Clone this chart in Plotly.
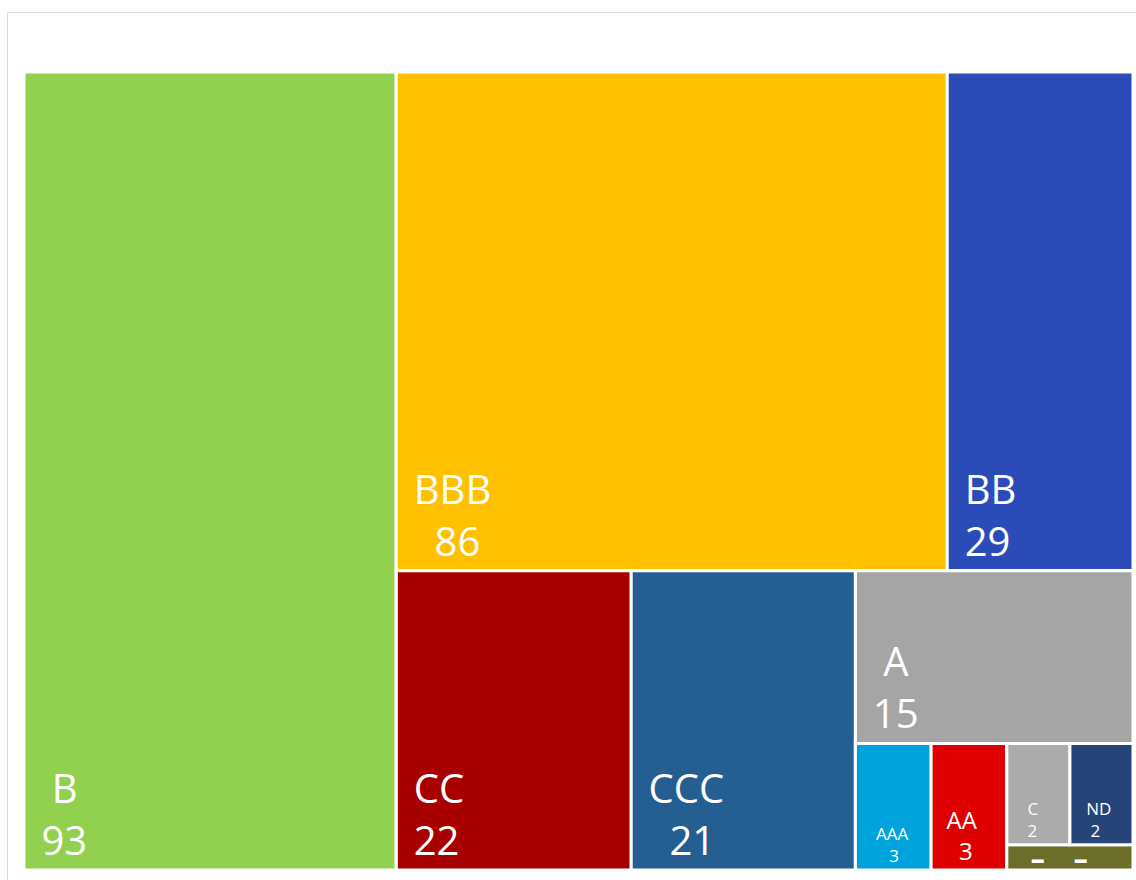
import plotly.graph_objects as go

# leaf data
labels = ["B", "BBB", "BB", "CC", "CCC", "A", "AAA", "AA", "C", "ND", "-"]
values = [93, 86, 29, 22, 21, 15, 3, 3, 2, 2, 1]
colors = ["#92D050", "#FFC000", "#2B4BB9", "#A80000", "#255E91", "#A5A5A5",
          "#00A2DB", "#DE0000", "#ABABAB", "#264478", "#6A6E28"]

# grouping that reproduces the reference's tile arrangement
groups = {
    "Total": ["B", "G1"],
    "G1": ["GT", "GB"],
    "GT": ["BBB", "BB"],
    "GB": ["CC", "CCC", "G2"],
    "G2": ["A", "G3"],
    "G3": ["AAA", "AA", "G4"],
    "G4": ["G5", "-"],
    "G5": ["C", "ND"],
}

font_sizes = {"B": 40, "BBB": 40, "BB": 40, "CC": 40, "CCC": 40, "A": 40,
              "AAA": 17, "AA": 24, "C": 17, "ND": 17, "-": 12}
NB = "\u00a0"
HS = "\u200a"
# indentation (in no-break spaces) of label line / value line
indent = {"B": (2, 1), "BBB": (1, 3), "BB": (1, 1), "CC": (1, 1),
          "CCC": (1, 3), "A": (2, 1), "AAA": (4, 7), "AA": (2, 4),
          "C": (4, 4), "ND": (3, 4)}
big = {"B", "BBB", "BB", "CC", "CCC", "A"}

leaf_val = dict(zip(labels, values))
leaf_col = dict(zip(labels, colors))


def node_value(n):
    if n in groups:
        return sum(node_value(c) for c in groups[n])
    return leaf_val[n]


ids, parents, vals, cols, texts, sizes = [], [], [], [], [], []


def walk(n, parent):
    ids.append(n)
    parents.append(parent)
    vals.append(node_value(n))
    if n in groups:
        cols.append("white")
        texts.append("")
        sizes.append(12)
        for c in groups[n]:
            walk(c, n)
    else:
        cols.append(leaf_col[n])
        sizes.append(font_sizes[n])
        if n == "-":
            texts.append(NB * 7 + "\u25ac" + NB * 10 + "\u25ac")
        else:
            a, b = indent[n]
            pre = HS if n in big else ""
            texts.append(pre + NB * a + n + "<br>" + pre + NB * b + str(leaf_val[n]))


walk("Total", "")

fig = go.Figure(go.Treemap(
    ids=ids,
    labels=ids,
    parents=parents,
    values=vals,
    branchvalues="total",
    text=texts,
    texttemplate="%{text}",
    textposition="bottom left",
    textfont=dict(family="Open Sans", size=sizes, color="white"),
    marker=dict(colors=cols, line=dict(color="white", width=3),
                pad=dict(t=0, l=0, r=0, b=0)),
    sort=False,
    tiling=dict(packing="slice-dice", pad=0),
    pathbar=dict(visible=False),
    hoverinfo="label+value",
))

W, H = 1136, 880
ML, MT, MR, MB = 24, 72, 3, 10
pw, ph = W - ML - MR, H - MT - MB
# light chart border (top edge at y=12, left edge at x=7)
bx0 = (7.5 - ML) / pw
by1 = 1 + (MT - 12.5) / ph

fig.update_layout(
    width=W, height=H,
    margin=dict(l=ML, r=MR, t=MT, b=MB),
    paper_bgcolor="white",
    showlegend=False,
    shapes=[dict(type="line", xref="paper", yref="paper",
                 x0=bx0, x1=1.01, y0=by1, y1=by1,
                 line=dict(color="#DDDDDD", width=1)),
            dict(type="line", xref="paper", yref="paper",
                 x0=bx0, x1=bx0, y0=-0.02, y1=by1,
                 line=dict(color="#DDDDDD", width=1))],
)

fig.write_html("out.html", config={"displayModeBar": False},
               post_script="document.body.style.margin='0';")
